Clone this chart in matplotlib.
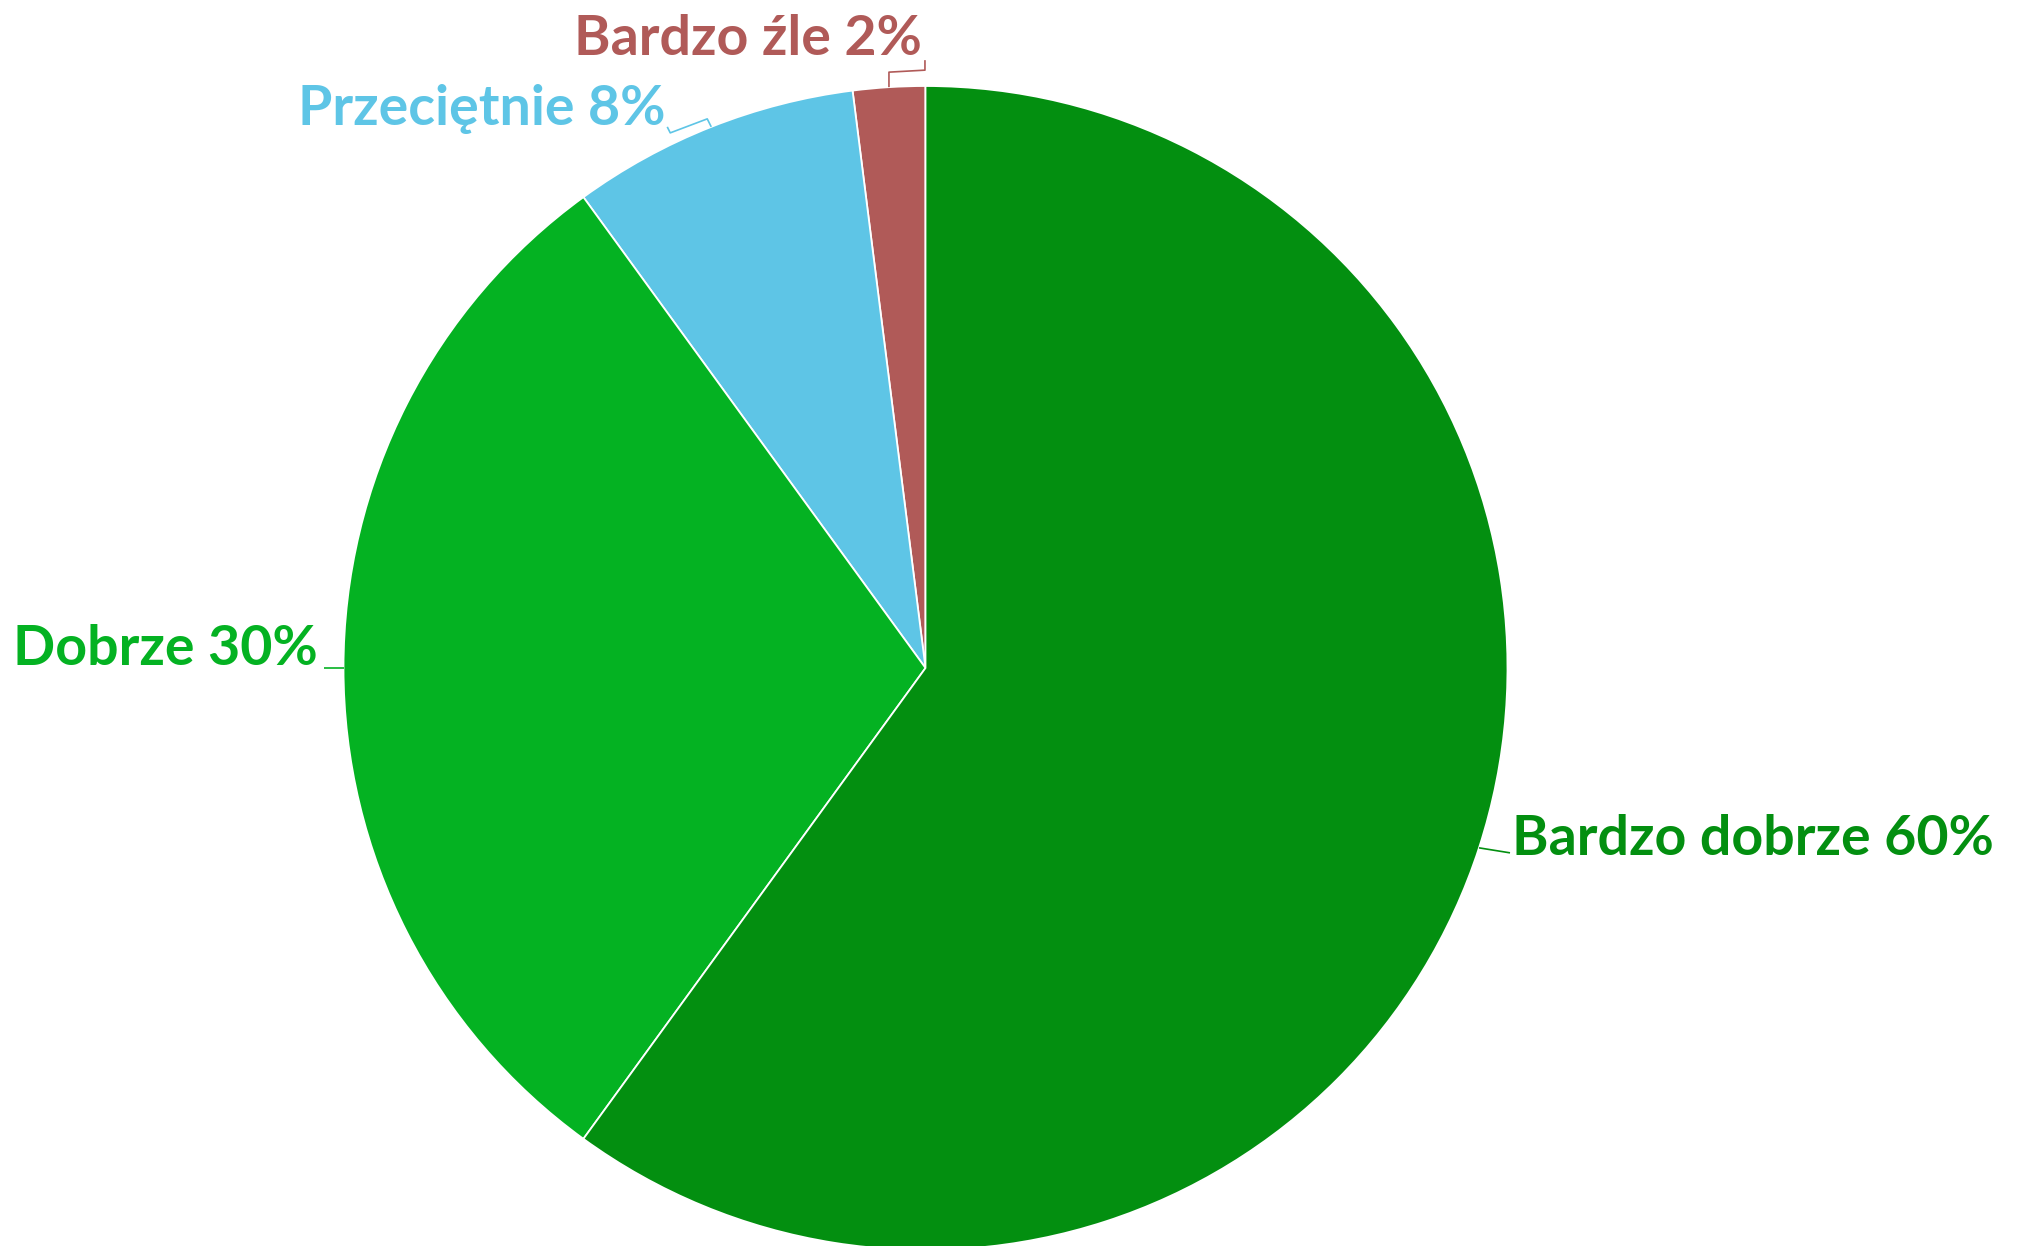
import numpy as np
import matplotlib.pyplot as plt

# data (counterclockwise from the top)
labels = ['Bardzo źle', 'Przeciętnie', 'Dobrze', 'Bardzo dobrze']
values = [2, 8, 30, 60]
colors = ['#b05a58', '#5ec5e6', '#04b222', '#038f10']

W, H = 2021, 1246
fig = plt.figure(figsize=(W / 100, H / 100), dpi=100)
ax = fig.add_axes([0, 0, 1, 1])
ax.set_xlim(0, W)
ax.set_ylim(0, H)
ax.axis('off')

cx, cy, r = 925.5, 578, 582
wedges, _ = ax.pie(values, colors=colors, startangle=90, counterclock=True,
                   center=(cx, cy), radius=r,
                   wedgeprops=dict(edgecolor='white', linewidth=1.3))
ax.set_xlim(0, W)
ax.set_ylim(0, H)
ax.set_aspect('auto')

# label placement: (text x, baseline y, ha, connector offsets from edge point)
layout = {
    'Bardzo dobrze': (1512, 391, 'left', [(0, 0), (31, -5)]),
    'Dobrze': (318, 581, 'right', [(0, 0), (-20, 0)]),
    'Przeciętnie': (665, 1121, 'right', [(0, 0), (-4, 8), (-41, -6), (-44, 0)]),
    'Bardzo źle': (922, 1191, 'right', [(0, 0), (0, 15), (36, 17), (36, 27)]),
}

for w, lab, val, col in zip(wedges, labels, values, colors):
    mid = np.deg2rad((w.theta1 + w.theta2) / 2)
    ex, ey = cx + r * np.cos(mid), cy + r * np.sin(mid)
    tx, ty, ha, offs = layout[lab]
    xs = [ex + dx for dx, dy in offs]
    ys = [ey + dy for dx, dy in offs]
    ax.plot(xs, ys, color=col, lw=1.2, solid_capstyle='butt')
    ax.text(tx, ty, '%s %d%%' % (lab, val), color=col, ha=ha, va='baseline',
            fontsize=40, fontweight='bold', family='Lato')

fig.savefig('out.png', dpi=100)
